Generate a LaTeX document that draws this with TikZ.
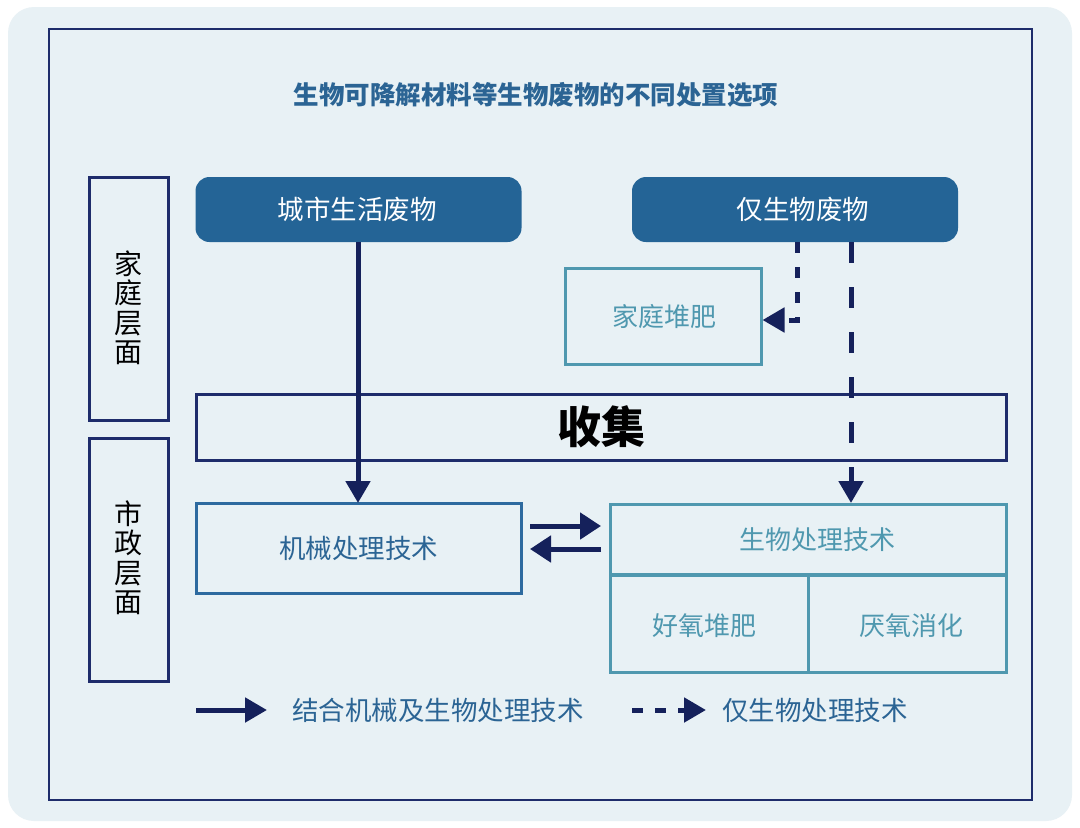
\documentclass[tikz,border=0pt]{standalone}
\usepackage{fontspec}
\setmainfont{Noto Sans CJK SC}
\newfontfamily\cjk{Noto Sans CJK SC}
\usetikzlibrary{arrows.meta}
\definecolor{bgc}{HTML}{E8F1F5}
\definecolor{framec}{HTML}{1E2C6B}
\definecolor{fillc}{HTML}{246496}
\definecolor{arrc}{HTML}{15215B}
\definecolor{tealc}{HTML}{4F98AF}
\definecolor{bluec}{HTML}{2D6A9F}
\definecolor{txtblue}{HTML}{2B6494}
\tikzset{
  levelbox/.style={draw=framec,line width=3pt,minimum width=79pt,minimum height=243pt,inner sep=0pt},
  leveltext/.style={inner sep=0pt,font=\cjk\fontsize{28}{29.5}\selectfont,text=black,align=center},
  srcbox/.style={fill=fillc,draw=none,rounded corners=14pt,minimum width=326pt,minimum height=65pt,inner sep=0pt},
  srctext/.style={inner sep=0pt,text=white,font=\cjk\fontsize{26.5}{30}\selectfont},
  tealbox/.style={draw=tealc,line width=3pt,inner sep=0pt},
  tealtext/.style={inner sep=0pt,text=tealc,font=\cjk\fontsize{26}{30}\selectfont},
  flow/.style={draw=arrc,line width=5pt,-{Triangle[length=22pt,width=24pt]}},
  legtext/.style={text=txtblue,font=\cjk\fontsize{26.5}{30}\selectfont,anchor=west,inner sep=0pt}
}
\begin{document}
\begin{tikzpicture}[x=1pt,y=-1pt]
\useasboundingbox (0,0) rectangle (1080,828);
\fill[white] (0,0) rectangle (1080,828);
\fill[bgc,rounded corners=26pt] (8,7) rectangle (1072,821);
\draw[framec,line width=2pt] (49,29) rectangle (1032,800);
\node[text=txtblue,font=\cjk\bfseries\fontsize{25.5}{30}\selectfont] (title) at (536,95) {生物可降解材料等生物废物的不同处置选项};
% level boxes
\node[levelbox] (home) at (128.5,298.5) {};
\node[leveltext] (hometxt) at (128.5,308) {家\\庭\\层\\面};
\node[levelbox] (muni) at (128.5,559.5) {};
\node[leveltext] (munitxt) at (128.5,557.5) {市\\政\\层\\面};
% sources
\node[srcbox] (msw) at (358.5,209.5) {};
\node[srctext] (mswtxt) at (357,209.5) {城市生活废物};
\node[srcbox] (bio) at (795,209.5) {};
\node[srctext] (biotxt) at (803,209.5) {仅生物废物};
% home compost
\node[tealbox,minimum width=196pt,minimum height=96pt] (hc) at (663,316) {};
\node[tealtext] (hctxt) at (664,317) {家庭堆肥};
% collection
\node[draw=framec,line width=3pt,minimum width=810pt,minimum height=66pt,inner sep=0pt,font=\cjk\bfseries\fontsize{44}{50}\selectfont] (col) at (601,427) {收集};
% mechanical
\node[draw=bluec,line width=3pt,minimum width=325pt,minimum height=90pt,inner sep=0pt,text=txtblue,font=\cjk\fontsize{26.5}{30}\selectfont] (mech) at (358.5,548) {机械处理技术};
% biological
\node[tealbox,minimum width=396pt,minimum height=70pt] (biot) at (808,539) {};
\node[tealtext] (biottxt) at (817,540) {生物处理技术};
\node[tealbox,minimum width=198pt,minimum height=97pt] (aer) at (709,624) {};
\node[tealtext] (aertxt) at (704.5,626) {好氧堆肥};
\node[tealbox,minimum width=198pt,minimum height=97pt] (ana) at (907,624) {};
\node[tealtext] (anatxt) at (911,626) {厌氧消化};
% flows
\draw[flow] (msw.south -| 358,0) -- (358,503);
\draw[flow,dash pattern=on 21pt off 24pt] (851,242) -- (851,503);
\coordinate (bend) at (797,320);
\draw[flow,dash pattern=on 11pt off 14pt] (797,242) -- (bend) -- (hc.east |- bend);
\coordinate (r1) at (530,526);
\coordinate (r2) at (601,526);
\coordinate (q1) at (601,549);
\coordinate (q2) at (530,549);
\draw[flow,-{Triangle[length=21pt,width=26pt]}] (r1) -- (r2);
\draw[flow,-{Triangle[length=21pt,width=26pt]}] (q1) -- (q2);
% legend
\coordinate (l1a) at (196,710);
\coordinate (l1b) at (267,710);
\draw[flow] (l1a) -- (l1b);
\node[legtext] (leg1) at (292,710) {结合机械及生物处理技术};
\coordinate (l2a) at (632,710);
\coordinate (l2b) at (706,710);
\draw[flow,dash pattern=on 11pt off 12pt] (l2a) -- (l2b);
\node[legtext] (leg2) at (722,710) {仅生物处理技术};
\end{tikzpicture}
\end{document}
